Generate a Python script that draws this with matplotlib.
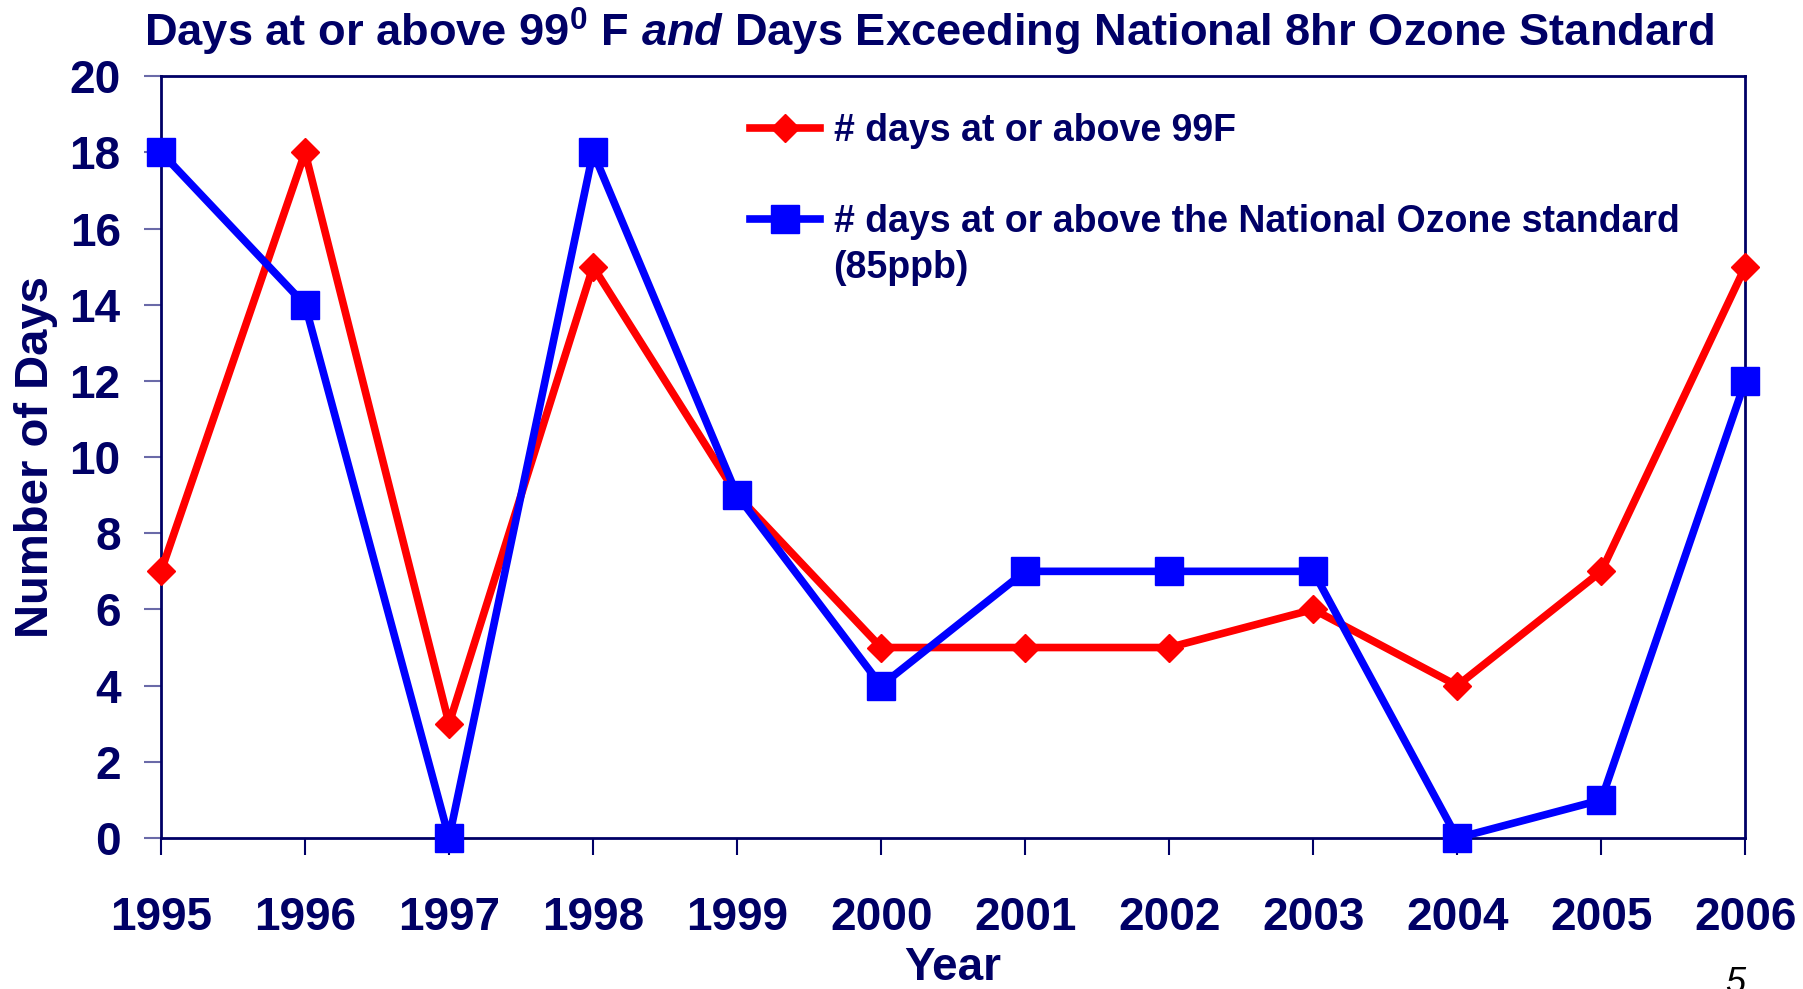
import matplotlib.pyplot as plt

years = [1995, 1996, 1997, 1998, 1999, 2000, 2001, 2002, 2003, 2004, 2005, 2006]
hot_days = [7, 18, 3, 15, 9, 5, 5, 5, 6, 4, 7, 15]
ozone_days = [18, 14, 0, 18, 9, 4, 7, 7, 7, 0, 1, 12]
yticks = list(range(0, 21, 2))

navy = '#000066'
red = '#FF0000'
blue = '#0000FF'

plt.rcParams['font.family'] = ['Liberation Sans', 'DejaVu Sans']
plt.rcParams['font.weight'] = 'bold'
plt.rcParams['mathtext.fontset'] = 'custom'
plt.rcParams['mathtext.rm'] = 'Liberation Sans:bold'
plt.rcParams['mathtext.it'] = 'Liberation Sans:bold:italic'
plt.rcParams['mathtext.bf'] = 'Liberation Sans:bold'

fig = plt.figure(figsize=(18.03, 9.89), dpi=100)
ax = fig.add_axes([0.0893, 0.1527, 0.8787, 0.7703])

ax.plot(years, hot_days, color=red, lw=5.5, marker='D', ms=14, mfc=red, mec=red,
        clip_on=False, zorder=3, label='# days at or above 99F')
ax.plot(years, ozone_days, color=blue, lw=5.5, marker='s', ms=20, mfc=blue, mec=blue,
        clip_on=False, zorder=4, label='# days at or above the National Ozone standard')

ax.set_xlim(1995, 2006)
ax.set_ylim(0, 20)
ax.set_xticks(years)
ax.set_yticks(yticks)
ax.tick_params(axis='x', direction='out', length=12, width=1.5, color=navy,
               pad=30, labelsize=33, labelcolor=navy)
ax.tick_params(axis='y', direction='out', length=12, width=1.5, color='#6a6aa8',
               pad=17, labelsize=33, labelcolor=navy)
for s in ax.spines.values():
    s.set_color(navy)
    s.set_linewidth(2)

ax.set_ylabel('Number of Days', fontsize=34, color=navy, fontweight='bold', labelpad=8)
ax.set_xlabel('Year', fontsize=33, color=navy, fontweight='bold', labelpad=4)

fig.text(0.515, 0.968, r'Days at or above 99$^{0}$ F $\mathit{and}$ Days Exceeding National 8hr Ozone Standard',
         ha='center', va='center', fontsize=32.6, color=navy, fontweight='bold')

leg = ax.legend(loc='upper left', bbox_to_anchor=(0.372, 0.951), frameon=False,
                fontsize=27, labelcolor=navy, handlelength=1.85, handletextpad=0.37,
                labelspacing=1.45, borderpad=0, borderaxespad=0)
for t in leg.get_texts():
    t.set_fontweight('bold')

# second line of the ozone label, lined up under the legend text
fig.canvas.draw()
x0 = leg.get_texts()[1].get_window_extent().x0
x0_ax = ax.transAxes.inverted().transform((x0, 0))[0]
ax.text(x0_ax, 0.748, '(85ppb)', transform=ax.transAxes, ha='left', va='center',
        fontsize=27, color=navy, fontweight='bold')

fig.text(0.957, -0.012, '5', ha='left', va='bottom', fontsize=26, style='italic',
         fontweight='normal', family='Liberation Sans', color='black')

fig.savefig('out.png', dpi=100)
